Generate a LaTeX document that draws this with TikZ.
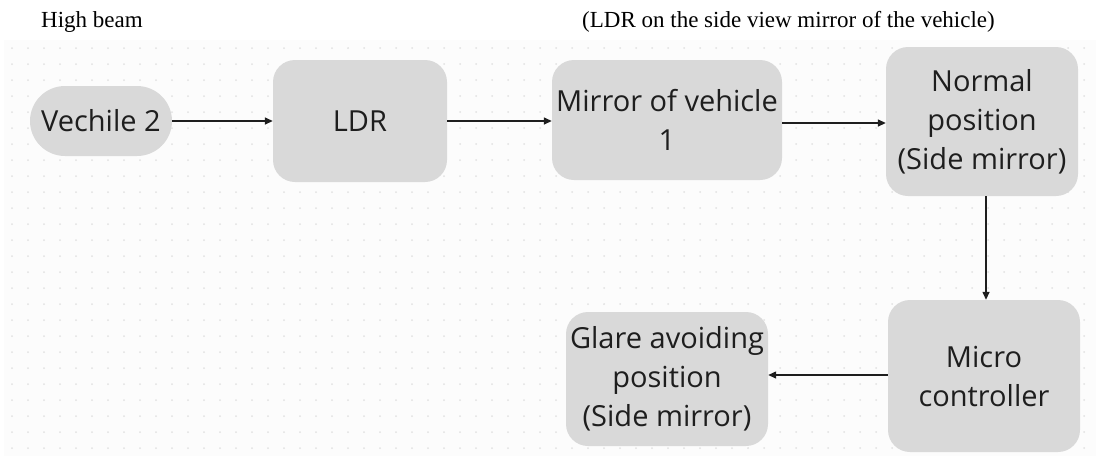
\documentclass[tikz,border=0pt]{standalone}
\usepackage{fontspec}
\setmainfont{Liberation Serif}
\newfontfamily\boxfont{Open Sans}
\usetikzlibrary{arrows.meta}
\definecolor{boxgray}{HTML}{D9D9D9}
\definecolor{dotgray}{HTML}{E2E2E2}
\definecolor{inkblack}{HTML}{1E1E1E}
\tikzset{
    blockbox/.style={fill=boxgray, text=inkblack, align=center, inner sep=2pt,
        font=\boxfont\fontsize{29}{39}\selectfont},
    flowarrow/.style={draw=inkblack, line width=1.4pt, -{Triangle[length=8pt,width=7pt]}},
    toplabel/.style={text=black, font=\fontsize{23}{27}\selectfont, inner sep=0pt}
}
\begin{document}
\begin{tikzpicture}[x=1pt,y=-1pt]
    % Page size
    \useasboundingbox[fill=white] (0,0) rectangle (1099,459);

    % Dotted background
    \fill[fill=white!99!black] (4,40) rectangle (1096,456);
    \foreach \i in {0,...,67} {
        \foreach \j in {0,...,25} {
            \fill[dotgray] (12+16*\i,48+16*\j) circle (1pt);
        }
    }

    % Labels on top
    \node[toplabel, anchor=base west] (beam) at (41,27) {High beam};
    \node[toplabel, anchor=base west] (ldrnote) at (582,27) {(LDR on the side view mirror of the vehicle)};

    % Blocks
    \node[blockbox, minimum width=142pt, minimum height=70pt, rounded corners=35pt] (veh) at (101,121) {Vechile 2};
    \node[blockbox, minimum width=174pt, minimum height=122pt, rounded corners=22pt] (ldr) at (360,121) {LDR};
    \node[blockbox, minimum width=230pt, minimum height=120pt, rounded corners=22pt] (mir) at (667,120) {Mirror of vehicle\\1};
    \node[blockbox, minimum width=192pt, minimum height=149pt, rounded corners=22pt] (norm) at (982,121.5) {Normal\\position\\(Side mirror)};
    \node[blockbox, minimum width=192pt, minimum height=152pt, rounded corners=22pt] (micro) at (984,376) {Micro\\controller};
    \node[blockbox, minimum width=202pt, minimum height=134pt, rounded corners=22pt] (glare) at (667,379) {Glare avoiding\\position\\(Side mirror)};

    % Draw connections
    \draw[flowarrow] (veh.east) -- (ldr.west);
    \draw[flowarrow] (ldr.east) -- (ldr.east -| mir.west);
    \draw[flowarrow] ([yshift=-3pt]mir.east) -- ([yshift=-3pt]mir.east -| norm.west);
    \draw[flowarrow] ([xshift=4pt]norm.south) -- ([xshift=4pt]norm.south |- micro.north);
    \draw[flowarrow] ([yshift=1pt]micro.west) -- ([yshift=1pt]micro.west -| glare.east);
\end{tikzpicture}
\end{document}
